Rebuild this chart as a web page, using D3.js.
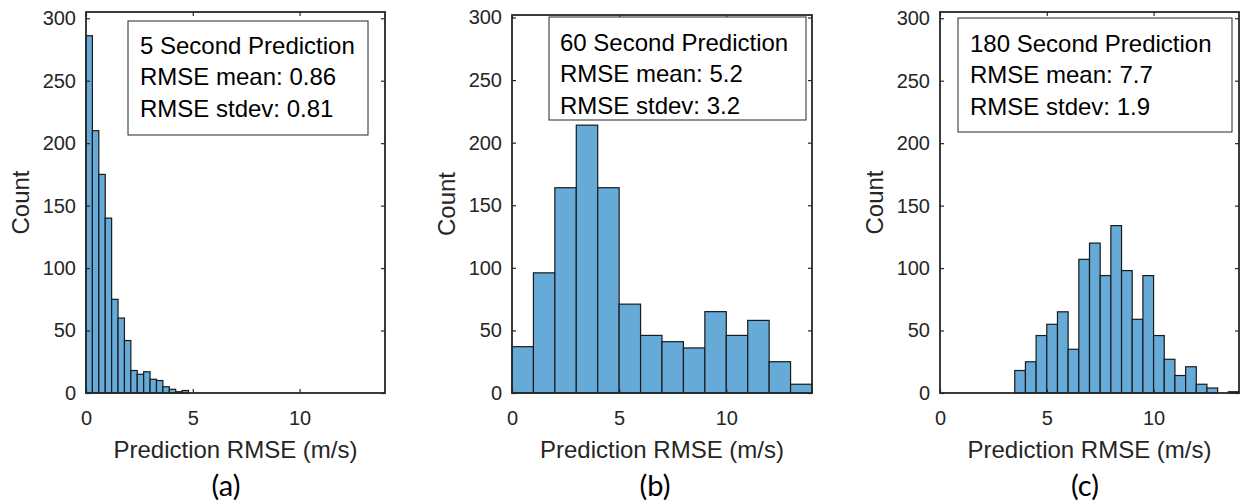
<!DOCTYPE html>
<html><head><meta charset="utf-8">
<script src="https://cdn.jsdelivr.net/npm/d3@7"></script>
<style>
body{margin:0;background:#fff;}
svg{display:block;font-family:"Liberation Sans",Arial,sans-serif;}
</style></head><body>
<svg id="fig" width="1241" height="504"></svg>
<script>
// RMSE histogram counts, one set per prediction horizon
const binStart5 = 0, binWidth5 = 0.3;
const counts5 = [286,210,175,140,75,60,42,18,15,17,11,10,5,3,1,2];
const binStart60 = 0, binWidth60 = 1;
const counts60 = [37,96,164,214,164,71,46,41,36,65,46,58,25,7];
const binStart180 = 3.5, binWidth180 = 0.5;
const counts180 = [18,25,46,55,65,35,107,120,94,134,98,59,94,46,27,14,21,7,4,0,1];

const titles = ["5 Second Prediction","60 Second Prediction","180 Second Prediction"];
const rmseMeans = ["0.86","5.2","7.7"];
const rmseStdevs = ["0.81","3.2","1.9"];
const panelTags = ["(a)","(b)","(c)"];
const xTicks = [0,5,10];
const yTicks = [0,50,100,150,200,250,300];
const xLimit = [0,14];
const yTop = [305,302,305];

const series = [
  {start:binStart5, width:binWidth5, counts:counts5},
  {start:binStart60, width:binWidth60, counts:counts60},
  {start:binStart180, width:binWidth180, counts:counts180}
];

// axes placement within the figure
const layout = [
  {left:86,  right:385,  top:12, bottom:393, box:[128,21,240,114], textX:140, line1:53.5, tagX:226},
  {left:512, right:812,  top:15, bottom:393, box:[549,17,257,103], textX:560, line1:50.5, tagX:655},
  {left:940, right:1239, top:12, bottom:393, box:[958,18,274,114], textX:970, line1:51.5, tagX:1085}
];

const axisColor = "#262626";
const barFill = "#66aad7";
const svg = d3.select("#fig");

series.forEach((s, p) => {
  const L = layout[p];
  const x = d3.scaleLinear().domain(xLimit).range([L.left, L.right]);
  const y = d3.scaleLinear().domain([0, yTop[p]]).range([L.bottom, L.top]);
  const g = svg.append("g");

  // histogram bars
  const bins = s.counts.map((c, i) => ({x0: s.start + i * s.width, x1: s.start + (i + 1) * s.width, c}))
                       .filter(d => d.c > 0);
  g.append("g").selectAll("rect").data(bins).join("rect")
    .attr("x", d => x(d.x0))
    .attr("width", d => x(d.x1) - x(d.x0))
    .attr("y", d => y(d.c))
    .attr("height", d => y(0) - y(d.c))
    .attr("fill", barFill)
    .attr("stroke", "#1a1a1a")
    .attr("stroke-width", 1.2);

  // axes with inward ticks on all four sides
  const styleAxis = sel => {
    sel.select(".domain").remove();
    sel.selectAll(".tick line").attr("stroke", axisColor).attr("stroke-width", 1.2);
    sel.selectAll(".tick text").attr("fill", axisColor).attr("font-size", 20)
       .attr("font-family", '"Liberation Sans",Arial,sans-serif');
  };
  g.append("g").attr("transform", `translate(0,${L.bottom})`)
    .call(d3.axisBottom(x).tickValues(xTicks).tickSize(-4).tickPadding(18)).call(styleAxis);
  g.append("g").attr("transform", `translate(0,${L.top})`)
    .call(d3.axisTop(x).tickValues(xTicks).tickSize(-4).tickFormat("")).call(styleAxis);
  g.append("g").attr("transform", `translate(${L.left},0)`)
    .call(d3.axisLeft(y).tickValues(yTicks).tickSize(-4).tickPadding(10)).call(styleAxis);
  g.append("g").attr("transform", `translate(${L.right},0)`)
    .call(d3.axisRight(y).tickValues(yTicks).tickSize(-4).tickFormat("")).call(styleAxis);

  g.append("rect")
    .attr("x", L.left).attr("y", L.top)
    .attr("width", L.right - L.left).attr("height", L.bottom - L.top)
    .attr("fill", "none").attr("stroke", axisColor).attr("stroke-width", 1.8);

  // statistics box
  const [bx, by, bw, bh] = L.box;
  g.append("rect").attr("x", bx).attr("y", by).attr("width", bw).attr("height", bh)
    .attr("fill", "#fff").attr("stroke", axisColor).attr("stroke-width", 1);
  const lines = [titles[p], "RMSE mean: " + rmseMeans[p], "RMSE stdev: " + rmseStdevs[p]];
  g.append("g").selectAll("text").data(lines).join("text")
    .attr("x", L.textX).attr("y", (d, i) => L.line1 + i * 31.7)
    .attr("font-size", 24).attr("fill", "#000").text(d => d);

  // axis titles
  g.append("text")
    .attr("x", (L.left + L.right) / 2).attr("y", 457.5)
    .attr("text-anchor", "middle").attr("font-size", 24).attr("fill", axisColor)
    .text("Prediction RMSE (m/s)");
  g.append("text")
    .attr("transform", `translate(${L.left - 57},${(L.top + L.bottom) / 2}) rotate(-90)`)
    .attr("text-anchor", "middle").attr("font-size", 24).attr("fill", axisColor)
    .text("Count");

  // panel tag
  g.append("text")
    .attr("x", L.tagX).attr("y", 496)
    .attr("text-anchor", "middle").attr("font-size", 29)
    .attr("font-family", "Lato, 'Open Sans', sans-serif").attr("fill", "#000")
    .text(panelTags[p]);
});
</script>
</body></html>
